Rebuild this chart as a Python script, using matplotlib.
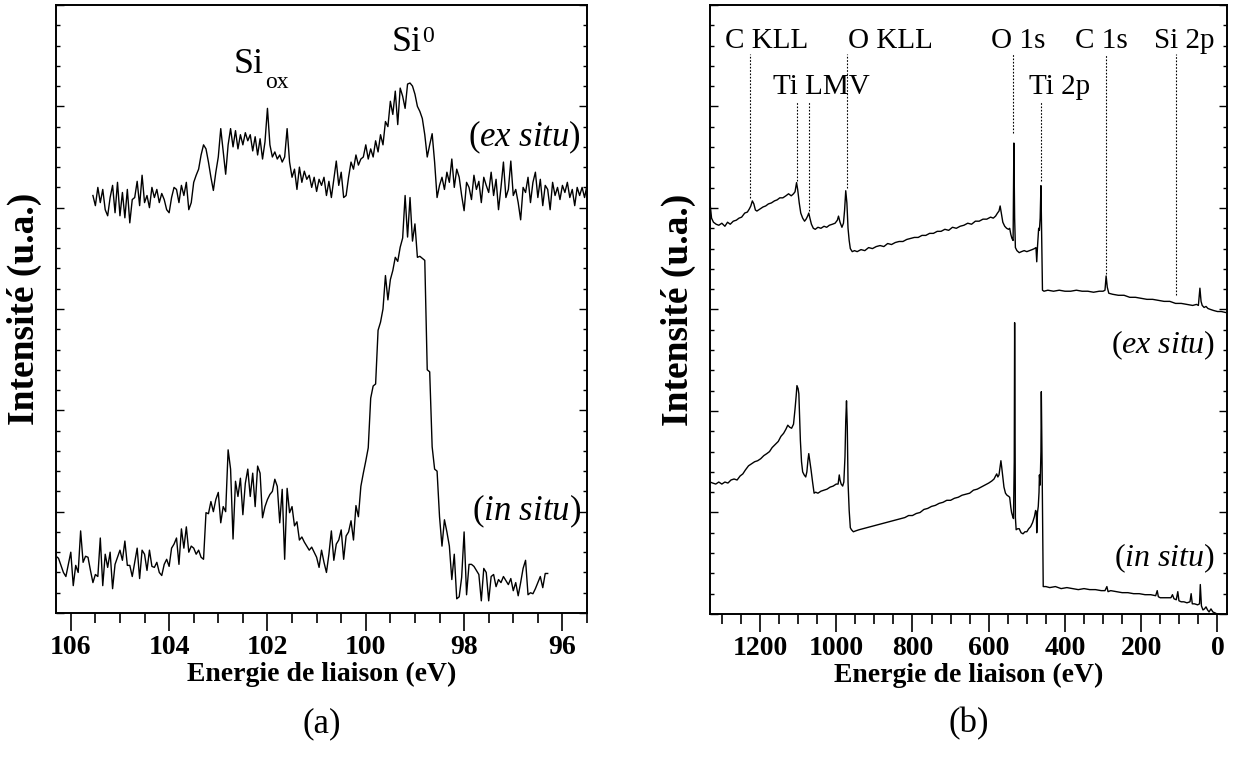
import numpy as np
import matplotlib
matplotlib.use("Agg")
import matplotlib.pyplot as plt
from matplotlib.ticker import MultipleLocator

plt.rcParams['font.family'] = ['Liberation Serif', 'DejaVu Serif']
plt.rcParams['mathtext.fontset'] = 'custom'
plt.rcParams['mathtext.rm'] = 'Liberation Serif'
plt.rcParams['mathtext.it'] = 'Liberation Serif:italic'

# (a) Si 2p region, energy grid of the spectrometer (eV, 0.05 eV steps)
si_step = 0.05
exsitu_si_start = 105.55
exsitu_si = [
    4.12, 4.02, 4.20, 4.05, 4.18, 3.98, 3.92, 4.10, 4.22, 3.95,
    4.25, 3.92, 4.15, 3.90, 4.18, 3.85, 4.08, 4.10, 4.26, 4.02,
    4.32, 4.05, 4.12, 4.00, 4.20, 4.10, 4.18, 4.05, 4.14, 4.08,
    3.98, 3.95, 4.10, 4.20, 4.18, 4.05, 4.22, 4.12, 4.25, 3.98,
    4.05, 4.25, 4.32, 4.38, 4.52, 4.62, 4.58, 4.45, 4.30, 4.17,
    4.35, 4.50, 4.78, 4.55, 4.33, 4.62, 4.78, 4.60, 4.76, 4.58,
    4.72, 4.62, 4.74, 4.66, 4.72, 4.56, 4.70, 4.52, 4.68, 4.48,
    4.65, 4.98, 4.62, 4.50, 4.55, 4.48, 4.52, 4.45, 4.50, 4.78,
    4.45, 4.30, 4.38, 4.18, 4.40, 4.25, 4.36, 4.28, 4.32, 4.20,
    4.30, 4.16, 4.28, 4.22, 4.30, 4.12, 4.26, 4.10, 4.28, 4.46,
    4.22, 4.35, 4.10, 4.12, 4.30, 4.45, 4.38, 4.52, 4.42, 4.48,
    4.50, 4.62, 4.48, 4.58, 4.50, 4.66, 4.55, 4.72, 4.62, 4.85,
    4.80, 5.05, 4.92, 5.15, 4.82, 5.18, 5.10, 4.98, 5.22, 5.23,
    5.20, 5.12, 5.00, 4.95, 4.88, 4.72, 4.50, 4.62, 4.73, 4.45,
    4.10, 4.22, 4.30, 4.18, 4.35, 4.25, 4.48, 4.20, 4.38, 4.30,
    4.12, 3.97, 4.25, 4.20, 4.08, 4.32, 4.18, 4.26, 4.05, 4.30,
    4.22, 4.15, 4.35, 4.12, 4.28, 3.98, 4.20, 4.45, 4.10, 4.18,
    4.46, 4.12, 4.18, 4.05, 3.88, 4.20, 4.15, 4.30, 4.05, 4.25,
    4.35, 4.10, 4.28, 4.02, 4.22, 4.18, 3.98, 4.25, 4.12, 4.20,
    4.08, 4.22, 4.15, 4.25, 4.10, 4.18, 4.02, 4.20, 4.12, 4.20,
    4.10, 4.22,
]
insitu_si_start = 106.30
insitu_si = [
    0.56, 0.54, 0.47, 0.40, 0.36, 0.48, 0.60, 0.27, 0.47, 0.40,
    0.81, 0.50, 0.56, 0.55, 0.42, 0.30, 0.38, 0.36, 0.74, 0.27,
    0.58, 0.45, 0.60, 0.24, 0.48, 0.55, 0.62, 0.52, 0.71, 0.47,
    0.47, 0.36, 0.50, 0.64, 0.34, 0.62, 0.58, 0.42, 0.62, 0.46,
    0.45, 0.50, 0.40, 0.37, 0.48, 0.53, 0.46, 0.64, 0.68, 0.74,
    0.48, 0.83, 0.64, 0.85, 0.60, 0.66, 0.64, 0.58, 0.62, 0.55,
    0.53, 0.99, 0.98, 1.10, 1.00, 1.12, 1.19, 0.89, 1.05, 1.00,
    1.61, 1.42, 0.73, 1.30, 1.15, 1.33, 0.97, 1.28, 1.42, 1.15,
    1.38, 1.05, 1.45, 1.38, 0.94, 1.05, 1.12, 1.17, 1.20, 1.32,
    1.25, 0.89, 1.22, 0.53, 1.23, 0.99, 1.05, 0.86, 0.90, 0.72,
    0.75, 0.70, 0.66, 0.62, 0.65, 0.60, 0.55, 0.45, 0.62, 0.50,
    0.40, 0.58, 0.81, 0.52, 0.68, 0.72, 0.82, 0.53, 0.76, 0.80,
    0.91, 0.72, 1.06, 0.95, 1.25, 1.38, 1.50, 1.63, 2.12, 2.24,
    2.26, 2.79, 2.87, 3.00, 3.33, 3.09, 3.29, 3.38, 3.51, 3.47,
    3.61, 3.70, 4.12, 3.71, 4.10, 3.67, 3.84, 3.51, 3.52, 3.50,
    3.48, 2.40, 2.38, 1.64, 1.42, 1.40, 0.95, 0.66, 0.92, 0.80,
    0.66, 0.33, 0.58, 0.14, 0.16, 0.35, 0.80, 0.18, 0.48, 0.48,
    0.46, 0.42, 0.38, 0.12, 0.44, 0.40, 0.12, 0.36, 0.38, 0.26,
    0.33, 0.30, 0.36, 0.32, 0.28, 0.34, 0.22, 0.30, 0.17, 0.30,
    0.44, 0.52, 0.18, 0.20, 0.19, 0.24, 0.30, 0.36, 0.25, 0.39,
    0.39,
]

# (b) survey spectra
exsitu_survey_ev = [
    1331, 1327, 1322, 1315, 1308, 1300, 1292, 1285, 1278, 1270, 1262, 1255,
    1248, 1240, 1233, 1228, 1224, 1220, 1216, 1212, 1208, 1200, 1192, 1185,
    1178, 1170, 1162, 1155, 1148, 1140, 1132, 1125, 1118, 1112, 1108, 1104,
    1101, 1097, 1093, 1088, 1083, 1079, 1075, 1072, 1069, 1065, 1060, 1055,
    1048, 1040, 1032, 1025, 1018, 1010, 1003, 997, 994, 990, 985, 981, 978,
    975, 972, 969, 966, 963, 958, 952, 945, 935, 925, 915, 905, 895, 885, 875,
    865, 855, 845, 835, 825, 815, 805, 795, 785, 775, 765, 755, 745, 735, 725,
    715, 705, 695, 685, 675, 665, 655, 645, 635, 625, 615, 605, 595, 588, 582,
    577, 573, 570, 567, 563, 558, 553, 548, 545, 542, 539, 536, 534, 532, 530,
    526, 520, 514, 507, 500, 493, 486, 480, 476, 474, 472, 469, 467, 465, 463,
    461, 459, 455, 445, 430, 415, 400, 385, 370, 355, 340, 325, 310, 300, 295,
    292, 289, 285, 275, 260, 245, 230, 215, 200, 185, 170, 155, 140, 125, 110,
    95, 80, 65, 55, 50, 46, 43, 40, 35, 30, 25, 18, 10, 0, -10, -22,
]
exsitu_survey = [
    4.05, 3.90, 3.86, 3.84, 3.83, 3.85, 3.82, 3.86, 3.84, 3.87, 3.88, 3.90,
    3.91, 3.95, 3.96, 3.99, 4.02, 4.07, 4.04, 3.98, 3.97, 3.99, 4.01, 4.02,
    4.04, 4.05, 4.07, 4.08, 4.10, 4.10, 4.12, 4.14, 4.12, 4.14, 4.16, 4.25,
    4.18, 4.05, 3.95, 3.90, 3.87, 3.89, 3.92, 3.95, 3.90, 3.84, 3.80, 3.79,
    3.81, 3.80, 3.82, 3.81, 3.83, 3.84, 3.85, 3.88, 3.92, 3.86, 3.81, 3.85,
    3.98, 4.17, 4.05, 3.80, 3.68, 3.60, 3.57, 3.58, 3.57, 3.59, 3.58, 3.61,
    3.60, 3.62, 3.63, 3.62, 3.65, 3.64, 3.66, 3.67, 3.67, 3.69, 3.70, 3.71,
    3.71, 3.73, 3.73, 3.75, 3.75, 3.77, 3.77, 3.79, 3.78, 3.81, 3.80, 3.82,
    3.83, 3.85, 3.84, 3.87, 3.87, 3.89, 3.89, 3.91, 3.90, 3.92, 3.95, 3.97,
    4.02, 3.95, 3.86, 3.82, 3.80, 3.79, 3.80, 3.74, 3.70, 3.68, 4.64, 3.90,
    3.61, 3.58, 3.56, 3.57, 3.58, 3.57, 3.58, 3.59, 3.60, 3.61, 3.47, 3.62,
    3.80, 3.78, 3.90, 4.22, 3.70, 3.19, 3.18, 3.19, 3.18, 3.19, 3.18, 3.18,
    3.19, 3.18, 3.18, 3.17, 3.18, 3.18, 3.19, 3.33, 3.22, 3.16, 3.15, 3.14,
    3.14, 3.12, 3.12, 3.11, 3.10, 3.10, 3.09, 3.08, 3.08, 3.06, 3.06, 3.05,
    3.04, 3.05, 3.04, 3.21, 3.08, 3.04, 3.02, 3.03, 3.01, 3.00, 2.99, 2.98,
    2.98, 2.97,
]
insitu_survey_ev = [
    1331, 1324, 1316, 1308, 1300, 1292, 1284, 1276, 1268, 1260, 1252, 1245,
    1238, 1230, 1222, 1214, 1206, 1198, 1190, 1182, 1175, 1168, 1160, 1152,
    1145, 1138, 1132, 1127, 1122, 1117, 1112, 1108, 1105, 1103, 1100, 1098,
    1096, 1094, 1091, 1088, 1084, 1080, 1077, 1074, 1072, 1069, 1066, 1062,
    1058, 1054, 1048, 1040, 1032, 1024, 1016, 1008, 1000, 995, 992, 990, 987,
    983, 980, 977, 975, 973, 971, 969, 966, 963, 960, 955, 948, 940, 930, 920,
    910, 900, 890, 880, 870, 860, 850, 840, 830, 820, 810, 800, 790, 780, 770,
    760, 750, 740, 730, 720, 710, 700, 690, 680, 670, 660, 650, 640, 630, 620,
    610, 600, 592, 586, 582, 579, 576, 573, 570, 568, 566, 563, 560, 556, 552,
    548, 545, 542, 540, 537, 535, 533, 532, 531, 530, 528, 524, 520, 515, 510,
    505, 500, 495, 490, 485, 480, 477, 475, 474, 472, 470, 468, 467, 465, 463,
    462, 460, 458, 457, 450, 440, 425, 410, 395, 380, 365, 350, 335, 320, 305,
    295, 290, 287, 280, 265, 250, 235, 220, 205, 190, 175, 162, 158, 155, 150,
    140, 130, 122, 118, 114, 108, 104, 101, 95, 88, 80, 72, 69, 66, 60, 52, 47,
    45, 42, 38, 34, 30, 26, 22, 17, 12, 6, 1,
]
insitu_survey = [
    1.30, 1.29, 1.28, 1.30, 1.28, 1.30, 1.29, 1.32, 1.33, 1.32, 1.36, 1.38,
    1.42, 1.46, 1.48, 1.50, 1.51, 1.53, 1.56, 1.58, 1.60, 1.64, 1.67, 1.70,
    1.75, 1.78, 1.82, 1.86, 1.84, 1.83, 1.87, 2.02, 2.15, 2.25, 2.22, 2.17,
    1.95, 1.71, 1.50, 1.40, 1.37, 1.35, 1.40, 1.52, 1.58, 1.50, 1.42, 1.30,
    1.19, 1.20, 1.19, 1.21, 1.22, 1.23, 1.25, 1.26, 1.28, 1.28, 1.37, 1.32,
    1.28, 1.26, 1.30, 1.55, 1.90, 2.10, 1.85, 1.30, 1.02, 0.85, 0.83, 0.81,
    0.82, 0.83, 0.84, 0.85, 0.86, 0.87, 0.88, 0.89, 0.90, 0.91, 0.92, 0.93,
    0.94, 0.95, 0.97, 0.97, 0.99, 1.00, 1.03, 1.04, 1.06, 1.07, 1.09, 1.10,
    1.12, 1.12, 1.14, 1.15, 1.17, 1.18, 1.19, 1.22, 1.23, 1.25, 1.27, 1.29,
    1.31, 1.33, 1.36, 1.38, 1.35, 1.37, 1.45, 1.51, 1.45, 1.35, 1.25, 1.19,
    1.17, 1.16, 1.15, 1.05, 1.00, 0.96, 0.94, 1.50, 2.87, 2.00, 0.95, 0.83,
    0.84, 0.84, 0.80, 0.79, 0.81, 0.81, 0.84, 0.86, 0.90, 0.96, 1.02, 1.00,
    0.80, 1.00, 1.06, 1.20, 1.37, 1.27, 1.60, 2.19, 1.48, 0.60, 0.27, 0.27,
    0.26, 0.27, 0.25, 0.26, 0.25, 0.24, 0.25, 0.24, 0.24, 0.23, 0.23, 0.27,
    0.22, 0.23, 0.22, 0.21, 0.21, 0.20, 0.20, 0.19, 0.19, 0.18, 0.23, 0.17,
    0.16, 0.16, 0.16, 0.16, 0.19, 0.15, 0.14, 0.22, 0.13, 0.12, 0.12, 0.11,
    0.12, 0.20, 0.10, 0.10, 0.09, 0.10, 0.29, 0.08, 0.04, 0.05, 0.07, 0.04,
    0.02, 0.05, 0.02, 0.01, 0.0,
]

# peak labels of the survey and the dotted markers under them
peak_labels = ['C KLL', 'Ti LMV', 'O KLL', 'O 1s', 'Ti 2p', 'C 1s', 'Si 2p']
peak_label_x = [1183, 1038, 858, 523, 413, 305, 88]
peak_label_row = [0, 1, 0, 0, 1, 0, 0]
marker_ev = [1225, 1104, 1072, 973, 536, 463, 292, 110]
marker_row = [0, 1, 1, 0, 0, 1, 0, 0]
marker_bottom = [4.10, 4.27, 3.97, 4.20, 4.74, 4.27, 3.35, 3.14]
row_text_y = [5.575, 5.12]
row_line_top = [5.52, 5.05]

exsitu_si_ev = exsitu_si_start - si_step * np.arange(len(exsitu_si))
insitu_si_ev = insitu_si_start - si_step * np.arange(len(insitu_si))

fig = plt.figure(figsize=(12.4, 7.58), dpi=100)
ax1 = fig.add_axes([0.0452, 0.1913, 0.4282, 0.8021])
ax2 = fig.add_axes([0.5726, 0.1900, 0.4169, 0.8034])

ax1.plot(exsitu_si_ev, exsitu_si, color='black', lw=1.0)
ax1.plot(insitu_si_ev, insitu_si, color='black', lw=1.0)
ax2.plot(exsitu_survey_ev, exsitu_survey, color='black', lw=1.0)
ax2.plot(insitu_survey_ev, insitu_survey, color='black', lw=1.0)

ax1.set_xlim(106.3, 95.5)
ax2.set_xlim(1331, -25)
ax1.xaxis.set_major_locator(MultipleLocator(2))
ax1.xaxis.set_minor_locator(MultipleLocator(0.5))
ax2.xaxis.set_major_locator(MultipleLocator(200))
ax2.xaxis.set_minor_locator(MultipleLocator(50))

for ax in (ax1, ax2):
    ax.set_ylim(0, 6)
    ax.yaxis.set_major_locator(MultipleLocator(1))
    ax.yaxis.set_minor_locator(MultipleLocator(0.2))
    for sp in ax.spines.values():
        sp.set_linewidth(1.4)
    ax.tick_params(axis='x', which='both', direction='out', top=False,
                   width=1.2, labelsize=20, pad=3)
    ax.tick_params(axis='x', which='major', length=13)
    ax.tick_params(axis='x', which='minor', length=7)
    ax.tick_params(axis='y', which='both', direction='in', left=True,
                   right=True, labelleft=False, width=1.0)
    ax.tick_params(axis='y', which='major', length=6)
    ax.tick_params(axis='y', which='minor', length=3)
    for lab in ax.get_xticklabels():
        lab.set_fontweight('bold')
    ax.set_xlabel('Energie de liaison (eV)', fontsize=20, fontweight='bold',
                  labelpad=1)
    ax.set_ylabel('Intensité (u.a.)', fontsize=27, fontweight='bold',
                  labelpad=10)

# annotations of panel (a)
ax1.text(102.68, 5.33, 'Si', fontsize=26, ha='left', va='baseline')
ax1.text(102.04, 5.24, 'ox', fontsize=17, ha='left', va='center')
ax1.text(99.48, 5.55, 'Si', fontsize=26, ha='left', va='baseline')
ax1.text(98.86, 5.69, '0', fontsize=17, ha='left', va='center')
ax1.text(95.62, 4.69, '($ex\\ situ$)', fontsize=25, ha='right', va='center')
ax1.text(95.62, 1.0, '($in\\ situ$)', fontsize=25, ha='right', va='center')

# annotations of panel (b)
for lab, lx, row in zip(peak_labels, peak_label_x, peak_label_row):
    ax2.text(lx, row_text_y[row], lab, fontsize=21, ha='center', va='baseline')
for mx, row, mb in zip(marker_ev, marker_row, marker_bottom):
    ax2.plot([mx, mx], [mb, row_line_top[row]], color='black', lw=0.8,
             linestyle=(0, (1.5, 1.5)))
ax2.text(7, 2.65, '($ex\\ situ$)', fontsize=23, ha='right', va='center')
ax2.text(7, 0.55, '($in\\ situ$)', fontsize=23, ha='right', va='center')

fig.text(0.2593, 0.045, '(a)', fontsize=25, ha='center', va='center')
fig.text(0.7810, 0.045, '(b)', fontsize=25, ha='center', va='center')

fig.savefig('out.png', dpi=100)
